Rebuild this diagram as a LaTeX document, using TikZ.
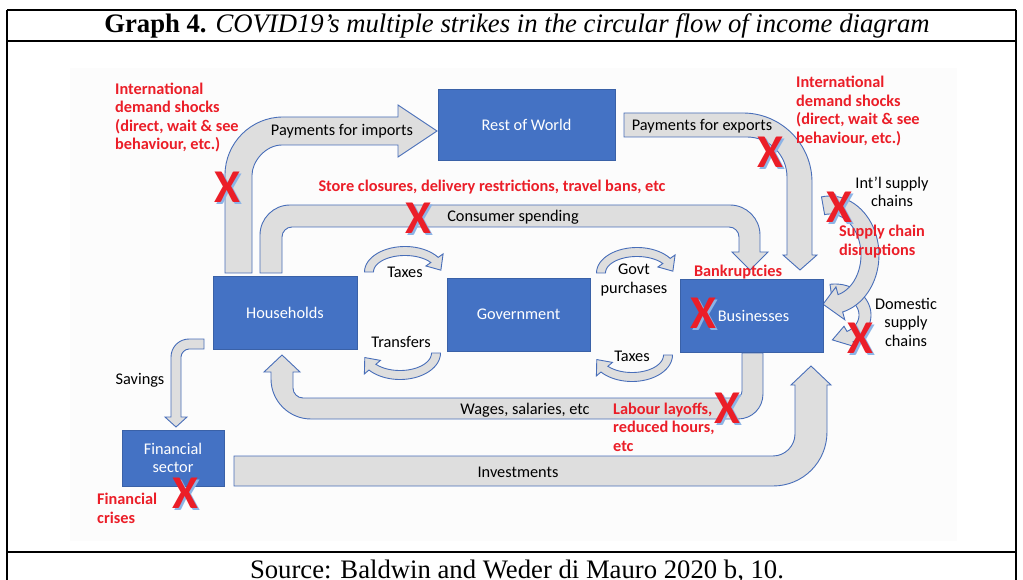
\documentclass[tikz,border=0pt]{standalone}
\usepackage{fontspec}
\setmainfont{Liberation Serif}
\newfontfamily\carl{Carlito}
\usetikzlibrary{calc}
\definecolor{boxblue}{RGB}{68,114,196}
\definecolor{arrowfill}{RGB}{222,222,222}
\definecolor{arrowline}{RGB}{72,110,185}
\definecolor{alertred}{RGB}{235,30,40}
\definecolor{xshadow}{RGB}{140,180,230}
\definecolor{panelbg}{RGB}{252,252,252}
\tikzset{
  sector/.style={fill=boxblue, draw=boxblue!85!black, line width=0.6pt, text=white,
    font=\carl\fontsize{16.3}{18.5}\selectfont, align=center, inner sep=0pt},
  flow/.style={fill=arrowfill, draw=arrowline, line width=0.9pt, line join=miter},
  lbl/.style={font=\carl\fontsize{16.3}{18.5}\selectfont, align=center, inner sep=0pt, text=black},
  alert/.style={font=\carl\bfseries\fontsize{16.3}{18.5}\selectfont, align=left, inner sep=0pt, text=alertred},
  xm/.style={font=\carl\bfseries\fontsize{47}{47}\selectfont, text=alertred, inner sep=0pt},
  xsh/.style={font=\carl\bfseries\fontsize{47}{47}\selectfont, text=xshadow, inner sep=0pt},
  tablerule/.style={line width=1.8pt},
}
% curved block arrow: cx, cy, a, b, thickness, start angle, head-base angle, tip angle, wing
\newcommand\carrow[9]{%
  \filldraw[flow] plot[domain=#6:#7,samples=40] ({#1+(#3+#5/2)*cos(\x)},{#2+(#4+#5/2)*sin(\x)})
  -- ({#1+(#3+#5/2+#9)*cos(#7)},{#2+(#4+#5/2+#9)*sin(#7)})
  -- ({#1+#3*cos(#8)},{#2+#4*sin(#8)})
  -- ({#1+(#3-#5/2-#9)*cos(#7)},{#2+(#4-#5/2-#9)*sin(#7)})
  -- plot[domain=#7:#6,samples=40] ({#1+(#3-#5/2)*cos(\x)},{#2+(#4-#5/2)*sin(\x)})
  -- cycle;}
\newcommand\xmark[3]{%
  \node[xsh] (#1s) at (#2+2,#3+1.8) {X};
  \node[xm] (#1) at (#2,#3) {X};}
\begin{document}
\begin{tikzpicture}[x=1pt,y=-1pt]
\useasboundingbox (0,0) rectangle (1023,580);
\fill[white] (0,0) rectangle (1023,580);
% table frame
\draw[tablerule] (7,10) -- (1016,10);
\draw[tablerule] (7,41) -- (1016,41);
\draw[tablerule] (7,552) -- (1016,552);
\draw[tablerule] (7,10) -- (7,580);
\draw[tablerule] (1016,10) -- (1016,580);
\node[anchor=base, inner sep=0pt] (title) at (517,33) {\fontsize{26.7}{30}\selectfont\textbf{Graph 4.} \textit{COVID19’s multiple strikes in the circular flow of income diagram}};
\node[anchor=base, inner sep=0pt] (source) at (517,578) {\fontsize{26.7}{30}\selectfont Source: Baldwin and Weder di Mauro 2020 b, 10.};
% panel background
\fill[panelbg] (70,68) rectangle (957,541);

% Payments for imports
\filldraw[flow] (225,273) -- (225,175) .. controls (225,143) and (251,117) .. (283,117)
  -- (398,117) -- (398,105) -- (437,131) -- (398,157) -- (398,145) -- (282,145)
  .. controls (265.5,145) and (252,161.5) .. (252,175) -- (252,273) -- cycle;
% Consumer spending
\filldraw[flow] (260,273) -- (260,235) .. controls (260,218.5) and (273.5,205) .. (290,205)
  -- (730,205) .. controls (746.5,205) and (760,218.5) .. (760,235)
  -- (760,252) -- (768,252) -- (750,270) -- (732,252) -- (739,252) -- (739,237)
  .. controls (739,231.5) and (734.5,227) .. (729,227) -- (292,227)
  .. controls (286.5,227) and (282,231.5) .. (282,237) -- (282,273) -- cycle;
% Payments for exports
\filldraw[flow] (624,113) -- (743,113) .. controls (781,113) and (812,144) .. (812,182)
  -- (812,255) -- (817,255) -- (800,270) -- (783,255) -- (787,255) -- (787,177)
  .. controls (787,155) and (769,137) .. (747,137) -- (624,137) -- cycle;
% Wages, salaries, etc
\filldraw[flow] (763,353) -- (763,394) .. controls (763,408) and (752,419) .. (738,419)
  -- (311,419) .. controls (289,419) and (271,401) .. (271,379) -- (271,372) -- (264,372)
  -- (282,355) -- (300,372) -- (293,372) -- (293,388)
  .. controls (293,393.5) and (297.5,398) .. (303,398) -- (735,398)
  .. controls (739,398) and (742,395) .. (742,391) -- (742,353) -- cycle;
% Investments
\filldraw[flow] (234,456) -- (773,456) .. controls (785,456) and (795,446) .. (795,434)
  -- (795,385) -- (791,385) -- (811,366) -- (831,385) -- (827,385) -- (827,432)
  .. controls (827,462) and (803,486) .. (773,486) -- (234,486) -- cycle;
% Savings
\filldraw[flow] (204,339) -- (189,339) .. controls (179,339) and (171,347) .. (171,357)
  -- (171,417) -- (165,417) -- (176,427) -- (187,417) -- (181,417) -- (181,357)
  .. controls (181,353) and (185,349) .. (189,349) -- (204,349) -- cycle;
% small curved arrows
\carrow{405}{272}{36}{21}{9}{180}{325}{355}{6}
\carrow{400}{353}{36}{22}{9}{0}{140}{168}{6}
\carrow{637}{273}{36}{21}{9}{180}{325}{355}{6}
\carrow{632}{355}{36}{22}{9}{0}{140}{168}{6}
% supply chains
\carrow{835}{315}{30}{25}{12}{262}{420}{455}{6}
\carrow{830}{255}{40}{50}{18}{260}{435}{460}{8}

% sectors
\node[sector, minimum width=177pt, minimum height=71pt] (row) at (526.5,124.5) {Rest of World};
\node[sector, minimum width=144pt, minimum height=73pt] (hh) at (285,312.5) {Households};
\node[sector, minimum width=143pt, minimum height=73pt] (gov) at (518.5,314.5) {Government};
\node[sector, minimum width=143pt, minimum height=73pt] (bus) at (751.5,315.5) {\hspace*{4pt}Businesses};
\node[sector, minimum width=102pt, minimum height=56pt] (fin) at (173,458) {Financial\\sector};

% flow labels
\node[lbl] (limp) at (342,131) {Payments for imports};
\node[lbl] (lcons) at (513,217) {Consumer spending};
\node[lbl] (lexp) at (702,126) {Payments for exports};
\node[lbl] (lwage) at (525,410) {Wages, salaries, etc};
\node[lbl] (linv) at (518,472) {Investments};
\node[lbl] (lsav) at (140,380) {Savings};
\node[lbl] (ltax1) at (405,272) {Taxes};
\node[lbl] (ltrans) at (401,342) {Transfers};
\node[lbl] (lgovt) at (634,280) {Govt\\purchases};
\node[lbl] (ltax2) at (632,356) {Taxes};
\node[lbl] (lintl) at (892,192) {Int’l supply\\chains};
\node[lbl] (ldom) at (906,322) {Domestic\\supply\\chains};

% red annotations
\node[alert, anchor=west] (a1) at (115,117.5) {International\\demand shocks\\(direct, wait \& see\\behaviour, etc.)};
\node[alert, anchor=west] (a2) at (796,111) {International\\demand shocks\\(direct, wait \& see\\behaviour, etc.)};
\node[alert] (a3) at (492,187) {Store closures, delivery restrictions, travel bans, etc};
\node[alert, anchor=west] (a4) at (839,241.5) {Supply chain\\disruptions};
\node[alert] (a5) at (738,272) {Bankruptcies};
\node[alert, anchor=west] (a6) at (613,427) {Labour layoffs,\\reduced hours,\\etc};
\node[alert, anchor=west] (a7) at (97,508.5) {Financial\\crises};

% X marks
\xmark{x1}{227}{187}
\xmark{x2}{418}{218}
\xmark{x3}{770}{152}
\xmark{x4}{839}{207}
\xmark{x5}{703}{313}
\xmark{x6}{860}{338}
\xmark{x7}{727}{408}
\xmark{x8}{185}{493}
\end{tikzpicture}
\end{document}
